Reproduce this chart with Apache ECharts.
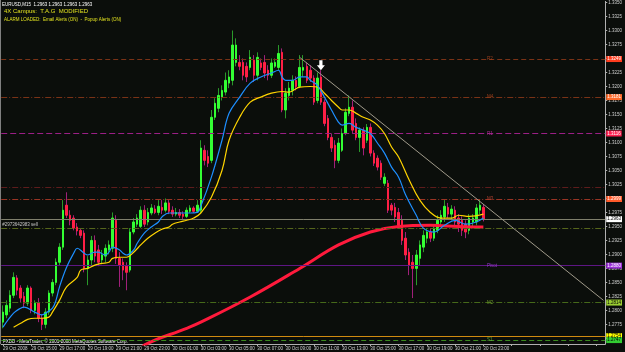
<!DOCTYPE html>
<html><head><meta charset="utf-8">
<script src="https://cdn.jsdelivr.net/npm/echarts@6/dist/echarts.min.js"></script>
<style>html,body{margin:0;padding:0;background:#0b0e0b;}#c{width:625px;height:352px;}</style>
</head><body><div id="c"></div>
<script>
// time labels every 8 bars (M15)
const timeLabels = ['29 Oct 2008','29 Oct 15:00','29 Oct 17:00','29 Oct 19:00','29 Oct 21:00','29 Oct 23:00','30 Oct 01:00','30 Oct 03:00','30 Oct 05:00','30 Oct 07:00','30 Oct 09:00','30 Oct 11:00','30 Oct 13:00','30 Oct 15:00','30 Oct 17:00','30 Oct 19:00','30 Oct 21:00','30 Oct 23:00'];
// candles [open, close, low, high]
const candles = [
[1.2779,1.2797,1.2768,1.2809],[1.2792,1.2809,1.2786,1.2818],[1.2804,1.2827,1.2797,1.2836],[1.2827,1.2859,1.2822,1.2868],
[1.2858,1.2836,1.2827,1.2863],[1.2840,1.2822,1.2815,1.2845],[1.2825,1.2813,1.2804,1.2833],[1.2813,1.2840,1.2808,1.2845],
[1.2840,1.2800,1.2795,1.2843],[1.2800,1.2813,1.2793,1.2818],[1.2813,1.2786,1.2779,1.2822],[1.2786,1.2775,1.2765,1.2793],
[1.2775,1.2797,1.2768,1.2804],[1.2797,1.2831,1.2792,1.2836],[1.2831,1.2850,1.2825,1.2856],[1.2850,1.2886,1.2845,1.2893],
[1.2886,1.2913,1.2881,1.2920],[1.2913,1.2979,1.2908,1.2997],[1.2988,1.2970,1.2965,1.3011],[1.2970,1.2961,1.2952,1.2979],
[1.2965,1.2947,1.2943,1.2970],[1.2949,1.2942,1.2934,1.2956],[1.2943,1.2934,1.2929,1.2947],[1.2938,1.2875,1.2868,1.2943],
[1.2875,1.2890,1.2845,1.2897],[1.2890,1.2925,1.2881,1.2933],[1.2925,1.2897,1.2886,1.2934],[1.2908,1.2886,1.2879,1.2917],
[1.2890,1.2899,1.2884,1.2908],[1.2897,1.2911,1.2886,1.2918],[1.2908,1.2917,1.2900,1.2925],[1.2911,1.2965,1.2904,1.2975],
[1.2961,1.2893,1.2883,1.2970],[1.2893,1.2881,1.2842,1.2904],[1.2886,1.2872,1.2854,1.2893],[1.2879,1.2868,1.2836,1.2886],
[1.2872,1.2940,1.2868,1.2947],[1.2940,1.2958,1.2936,1.2965],[1.2954,1.2965,1.2949,1.2972],[1.2950,1.2979,1.2947,1.2986],
[1.2979,1.2954,1.2949,1.2988],[1.2958,1.2975,1.2952,1.2983],[1.2974,1.2983,1.2970,1.2990],[1.2981,1.2975,1.2972,1.2988],
[1.2975,1.2986,1.2970,1.2997],[1.2984,1.2979,1.2972,1.2997],[1.2979,1.2992,1.2975,1.3000],[1.2992,1.2977,1.2972,1.2997],
[1.2979,1.2972,1.2967,1.2986],[1.2972,1.2975,1.2968,1.2983],[1.2975,1.2970,1.2965,1.2981],[1.2972,1.2968,1.2963,1.2977],
[1.2968,1.2979,1.2965,1.2984],[1.2977,1.2983,1.2974,1.2988],[1.2983,1.2977,1.2974,1.2986],[1.2977,1.2988,1.2974,1.2997],
[1.2979,1.3090,1.2974,1.3104],[1.3086,1.3068,1.3059,1.3095],[1.3075,1.3063,1.3056,1.3086],[1.3068,1.3145,1.3063,1.3158],
[1.3145,1.3170,1.3140,1.3179],[1.3161,1.3184,1.3154,1.3197],[1.3181,1.3193,1.3175,1.3202],[1.3190,1.3211,1.3184,1.3225],
[1.3206,1.3217,1.3197,1.3229],[1.3211,1.3274,1.3202,1.3300],[1.3243,1.3274,1.3236,1.3286],[1.3243,1.3236,1.3229,1.3256],
[1.3243,1.3220,1.3211,1.3250],[1.3236,1.3217,1.3208,1.3243],[1.3234,1.3252,1.3229,1.3265],[1.3247,1.3220,1.3208,1.3256],
[1.3220,1.3252,1.3211,1.3261],[1.3242,1.3234,1.3229,1.3250],[1.3243,1.3224,1.3215,1.3256],[1.3229,1.3220,1.3211,1.3238],
[1.3220,1.3242,1.3215,1.3250],[1.3236,1.3243,1.3233,1.3250],[1.3234,1.3259,1.3229,1.3274],[1.3261,1.3158,1.3154,1.3268],
[1.3158,1.3188,1.3143,1.3197],[1.3184,1.3197,1.3175,1.3208],[1.3193,1.3211,1.3184,1.3220],[1.3211,1.3200,1.3193,1.3218],
[1.3200,1.3234,1.3197,1.3256],[1.3229,1.3234,1.3217,1.3256],[1.3236,1.3211,1.3206,1.3243],[1.3229,1.3215,1.3208,1.3238],
[1.3215,1.3172,1.3167,1.3220],[1.3175,1.3215,1.3170,1.3225],[1.3217,1.3172,1.3167,1.3229],[1.3172,1.3134,1.3129,1.3177],
[1.3143,1.3109,1.3104,1.3149],[1.3109,1.3090,1.3083,1.3116],[1.3095,1.3068,1.3054,1.3104],[1.3068,1.3099,1.3063,1.3108],
[1.3086,1.3116,1.3083,1.3125],[1.3116,1.3154,1.3113,1.3161],[1.3152,1.3163,1.3147,1.3184],[1.3163,1.3122,1.3116,1.3175],
[1.3134,1.3109,1.3104,1.3143],[1.3109,1.3122,1.3083,1.3127],[1.3122,1.3090,1.3077,1.3127],[1.3104,1.3127,1.3099,1.3133],
[1.3127,1.3081,1.3075,1.3134],[1.3081,1.3063,1.3058,1.3086],[1.3072,1.3056,1.3050,1.3077],[1.3063,1.3038,1.3033,1.3068],
[1.3027,1.3038,1.3022,1.3045],[1.3027,1.2979,1.2974,1.3033],[1.2988,1.2979,1.2970,1.2992],[1.2984,1.2967,1.2958,1.2992],
[1.2975,1.2952,1.2947,1.2983],[1.2961,1.2925,1.2917,1.2970],[1.2929,1.2899,1.2890,1.2940],[1.2904,1.2881,1.2863,1.2911],
[1.2886,1.2875,1.2822,1.2899],[1.2875,1.2899,1.2845,1.2908],[1.2893,1.2917,1.2881,1.2925],[1.2913,1.2934,1.2904,1.2943],
[1.2929,1.2940,1.2920,1.2947],[1.2940,1.2929,1.2922,1.2947],[1.2929,1.2947,1.2924,1.2954],[1.2943,1.2961,1.2938,1.2970],
[1.2958,1.2970,1.2950,1.2979],[1.2967,1.2986,1.2958,1.2997],[1.2984,1.2972,1.2965,1.2992],[1.2972,1.2981,1.2961,1.2988],
[1.2979,1.2958,1.2950,1.2986],[1.2965,1.2954,1.2940,1.2972],[1.2961,1.2943,1.2933,1.2968],[1.2954,1.2940,1.2929,1.2961],
[1.2943,1.2965,1.2936,1.2972],[1.2958,1.2965,1.2950,1.2972],[1.2958,1.2983,1.2952,1.2990],[1.2979,1.2988,1.2972,1.2997],
[1.2984,1.2963,1.2959,1.2990]
];
// moving averages: [barIndex, price]
const maFast = [[0,1.2770],[3,1.2795],[5,1.2804],[6,1.2806],[9,1.2797],[11,1.2792],[12,1.2795],[14,1.2804],[15,1.2818],[16,1.2842],[18,1.2877],[20,1.2902],[21,1.2911],[23,1.2902],[24,1.2899],[26,1.2904],[27,1.2904],[29,1.2899],[30,1.2904],[31,1.2913],[33,1.2908],[34,1.2902],[35,1.2899],[37,1.2908],[38,1.2920],[40,1.2938],[42,1.2949],[44,1.2958],[45,1.2967],[47,1.2974],[49,1.2974],[51,1.2974],[53,1.2974],[55,1.2975],[56,1.2986],[59,1.3038],[62,1.3104],[64,1.3152],[67,1.3181],[70,1.3206],[73,1.3217],[76,1.3224],[78,1.3229],[79,1.3217],[80,1.3211],[82,1.3211],[84,1.3217],[86,1.3217],[87,1.3211],[89,1.3202],[91,1.3181],[93,1.3158],[95,1.3136],[96,1.3131],[98,1.3134],[100,1.3127],[102,1.3122],[104,1.3116],[106,1.3099],[108,1.3081],[110,1.3056],[112,1.3038],[114,1.3006],[117,1.2970],[119,1.2947],[122,1.2940],[125,1.2952],[128,1.2961],[131,1.2954],[134,1.2958],[136,1.2965]];
const maSlow = [[3,1.2770],[5,1.2777],[7,1.2784],[9,1.2786],[11,1.2786],[13,1.2788],[14,1.2797],[16,1.2818],[18,1.2842],[21,1.2859],[22,1.2872],[24,1.2875],[26,1.2881],[28,1.2884],[30,1.2886],[31,1.2893],[33,1.2895],[35,1.2895],[37,1.2904],[39,1.2917],[41,1.2929],[43,1.2938],[45,1.2945],[47,1.2949],[48,1.2954],[50,1.2958],[52,1.2961],[54,1.2965],[56,1.2974],[59,1.3002],[62,1.3050],[64,1.3104],[67,1.3145],[70,1.3172],[73,1.3181],[76,1.3188],[79,1.3191],[81,1.3190],[84,1.3199],[87,1.3200],[89,1.3199],[91,1.3188],[93,1.3175],[95,1.3163],[96,1.3158],[98,1.3158],[100,1.3152],[102,1.3145],[104,1.3140],[106,1.3131],[108,1.3116],[110,1.3092],[112,1.3074],[115,1.3033],[118,1.2997],[121,1.2975],[124,1.2965],[127,1.2965],[129,1.2970],[132,1.2968],[136,1.2972]];
const maLong = [[39,1.2725],[40,1.2738],[52,1.2768],[56,1.2779],[70,1.2824],[84,1.2875],[95,1.2917],[104,1.2940],[112,1.2950],[121,1.2952],[129,1.2950],[136,1.2949]];
// price axis ticks
const priceTicks = [1.2750,1.2775,1.2800,1.2825,1.2850,1.2875,1.2900,1.2925,1.2950,1.2975,1.3000,1.3025,1.3050,1.3075,1.3100,1.3125,1.3150,1.3175,1.3200,1.3225,1.3250,1.3275,1.3300,1.3325,1.3350];
// horizontal levels
const levelNames  = ['R2','M4','R1','','M3','','','Pivot','M2','','S1'];
const levelPrices = [1.3249,1.3181,1.3116,1.3020,1.2999,1.2963,1.2947,1.2880,1.2814,1.2754,1.2747];
const orderText = '#2973642983 sell';
const trendLine = [[84,1.3252],[170,1.2818]];
const arrowPoint = [90,1.3238];

const levelStyles = [
 {line:'#7a3216', type:[5,3], box:'#ff3c1e', txt:'#ffffff', name:'#a0401c'},
 {line:'#7a3216', type:[6,2,1,2], box:'#ff6a2a', txt:'#ffffff', name:'#a0401c'},
 {line:'#9b1f86', type:[6,3], box:'#ff1f4f', txt:'#ffffff', name:'#b02a96'},
 {line:'#5e1c1c', type:[6,2,1,2], box:null},
 {line:'#9a3424', type:[6,2,1,2], box:'#ff5a2a', txt:'#ffffff', name:'#b04030'},
 {line:'#7f7f6c', type:'solid', box:'#ffffff', txt:'#000000'},
 {line:'#56661c', type:[6,2,1,2], box:null, start:true},
 {line:'#5e1684', type:'solid', box:'#9b30d8', txt:'#ffffff', name:'#9a3ad0'},
 {line:'#46691a', type:[6,2,1,2], box:'#9acd32', txt:'#000000', name:'#6a9a2a'},
 {line:'#d08a10', type:'solid', box:'#ffff00', txt:'#000000'},
 {line:'#3a8a1e', type:[5,3], box:'#32cd32', txt:'#000000', name:'#5aaa3a'}
];

const N = 171;
const cats = Array.from({length:N}, (_, i) => i);
const bodies = candles.map(d => [d[0], d[1], Math.min(d[0], d[1]), Math.max(d[0], d[1])]);

const lineMarks = levelPrices.map((p, k) => {
  const s = levelStyles[k];
  const item = {yAxis: p, lineStyle: {color: s.line, type: s.type, width: 1}};
  if (s.box) {
    item.label = {show: true, position: 'end', distance: 1, formatter: v => Number(v.value).toFixed(4),
      backgroundColor: s.box, color: s.txt, fontSize: 4.5, padding: [1, 1, 0, 1], fontFamily: 'Liberation Sans'};
  } else if (s.start) {
    item.label = {show: true, position: 'insideStartTop', distance: 1, formatter: orderText,
      color: '#c8c8c8', fontSize: 4.5, fontFamily: 'Liberation Sans'};
  } else {
    item.label = {show: false};
  }
  return item;
});
lineMarks.push([
  {coord: trendLine[0], lineStyle: {color: '#a09a8a', width: 1, type: 'solid'}, label: {show: false}},
  {coord: trendLine[1]}
]);

const namePoints = levelPrices.map((p, k) => levelNames[k] ? {
  coord: [137, p], symbolSize: 0,
  label: {show: true, position: 'right', distance: 0, formatter: levelNames[k], color: levelStyles[k].name, fontSize: 4.5, fontFamily: 'Liberation Sans'}
} : null).filter(Boolean);
namePoints.push({coord: arrowPoint, symbol: 'path://M3,0 L7,0 L7,6 L10,6 L5,12 L0,6 L3,6 Z', symbolSize: [8, 10],
  itemStyle: {color: '#ffffff'}, label: {show: false}});

const chart = echarts.init(document.getElementById('c'), null, {renderer: 'canvas'});
chart.setOption({
  animation: false,
  backgroundColor: '#0b0e0b',
  grid: {left: 0, right: 18, top: 1, bottom: 8},
  xAxis: {
    type: 'category', data: cats, boundaryGap: true,
    axisLine: {lineStyle: {color: '#b0b0b0', width: 1}},
    axisTick: {show: true, length: 2, interval: (i) => i % 8 === 0, alignWithLabel: true, lineStyle: {color: '#b0b0b0'}},
    axisLabel: {interval: (i) => i % 8 === 0 && i / 8 < timeLabels.length, formatter: (v, i) => timeLabels[i / 8] || '',
      align: 'left', color: '#d0d0d0', fontSize: 4.5, margin: 2, fontFamily: 'Liberation Sans'},
    splitLine: {show: false}
  },
  yAxis: {
    type: 'value', position: 'right', min: 1.2740, max: 1.3352, scale: true,
    axisLine: {show: true, lineStyle: {color: '#b0b0b0'}},
    axisTick: {show: true, length: 2, customValues: priceTicks, lineStyle: {color: '#b0b0b0'}},
    axisLabel: {customValues: priceTicks, formatter: v => v.toFixed(4), color: '#d0d0d0', fontSize: 4.5, margin: 3, fontFamily: 'Liberation Sans'},
    splitLine: {show: false}
  },
  series: [
    {type: 'candlestick', name: 'wick', data: candles, barWidth: 1, z: 2,
     itemStyle: {color: '#2a9a2a', color0: '#a0207a', borderColor: '#2a9a2a', borderColor0: '#a0207a', borderWidth: 1},
     markLine: {silent: true, symbol: ['none', 'none'], precision: 4, animation: false, data: lineMarks},
     markPoint: {silent: true, animation: false, data: namePoints}},
    {type: 'candlestick', name: 'body', data: bodies, barWidth: 2, z: 3,
     itemStyle: {color: '#33ff33', color0: '#ff1f45', borderColor: '#33ff33', borderColor0: '#ff1f45', borderWidth: 1}},
    {type: 'line', name: 'long', data: maLong, symbol: 'none', smooth: 0.4, z: 4, lineStyle: {color: '#ff1a3c', width: 3}},
    {type: 'line', name: 'slow', data: maSlow, symbol: 'none', smooth: 0.4, z: 5, lineStyle: {color: '#ffd400', width: 1.2}},
    {type: 'line', name: 'fast', data: maFast, symbol: 'none', smooth: 0.4, z: 6, lineStyle: {color: '#1e8fff', width: 1.2}}
  ],
  graphic: [
    {type: 'line', shape: {x1: 0.5, y1: 0, x2: 0.5, y2: 344}, style: {stroke: '#808080', lineWidth: 1}},
    {type: 'text', left: 2, top: 2, style: {text: 'EURUSD,M15  1.2963 1.2963 1.2963 1.2963', fill: '#ffffff', font: '4.5px Liberation Sans'}},
    {type: 'text', left: 4, top: 8, style: {text: '4X Campus:  T.A.G  MODIFIED', fill: '#e0e020', font: '6px Liberation Sans'}},
    {type: 'text', left: 4, top: 17, style: {text: 'ALARM LOADED:  Email Alerts (ON)  -  Popup Alerts (ON)', fill: '#e0e020', font: '4.5px Liberation Sans'}},
    {type: 'text', left: 3, top: 339, style: {text: 'FXDD - MetaTrader, \u00a9 2001-2008 MetaQuotes Software Corp.', fill: '#ffffff', font: '4.5px Liberation Sans'}}
  ]
});
</script></body></html>
